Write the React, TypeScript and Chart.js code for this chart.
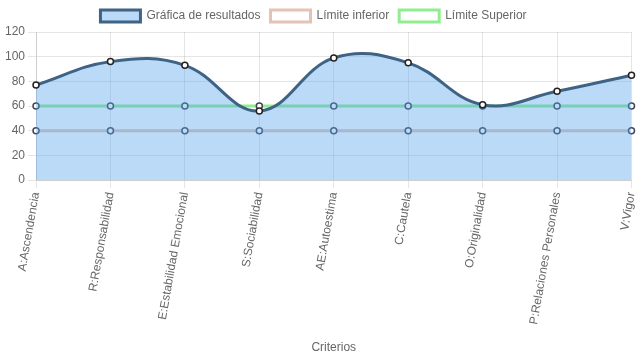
import React, { useEffect, useRef } from "react";
import { Chart, registerables } from "chart.js";

Chart.register(...registerables);

const categories = [
  "A:Ascendencia",
  "R:Responsabilidad",
  "E:Estabilidad Emocional",
  "S:Sociabilidad",
  "AE:Autoestima",
  "C:Cautela",
  "O:Originalidad",
  "P:Relaciones Personales",
  "V:Vigor",
];
const resultados = [77, 96, 93, 56, 99, 95, 61, 72, 85];
const limiteInferior = [40, 40, 40, 40, 40, 40, 40, 40, 40];
const limiteSuperior = [60, 60, 60, 60, 60, 60, 60, 60, 60];

const legendShift = {
  id: "legendShift",
  afterUpdate(chart: any) {
    if (chart.legend) {
      chart.legend.right -= 12;
    }
  },
};

export default function App() {
  const ref = useRef<HTMLCanvasElement | null>(null);
  useEffect(() => {
    document.body.style.margin = "0";
    Chart.defaults.font.family = "Arial, 'Liberation Sans', sans-serif";
    Chart.defaults.font.size = 12;
    Chart.defaults.color = "#666";
    const chart = new Chart(ref.current!, {
      type: "line",
      data: {
        labels: categories,
        datasets: [
          {
            label: "Gráfica de resultados",
            data: resultados,
            fill: "origin",
            backgroundColor: "rgba(82,162,235,0.4)",
            borderColor: "#3e6384",
            borderWidth: 3,
            tension: 0.4,
            pointRadius: 3,
            pointBorderWidth: 1.5,
            pointBackgroundColor: "#fff",
            pointBorderColor: "#222",
          },
          {
            label: "Límite inferior",
            data: limiteInferior,
            fill: false,
            backgroundColor: "rgba(255,255,255,0)",
            borderColor: "rgb(228,195,180)",
            borderWidth: 3,
            pointRadius: 3,
            pointBorderWidth: 1.5,
            pointBackgroundColor: "#fff",
            pointBorderColor: "#445",
          },
          {
            label: "Límite Superior",
            data: limiteSuperior,
            fill: false,
            backgroundColor: "rgba(255,255,255,0)",
            borderColor: "rgb(144,238,144)",
            borderWidth: 3,
            pointRadius: 3,
            pointBorderWidth: 1.5,
            pointBackgroundColor: "#fff",
            pointBorderColor: "#445",
          },
        ],
      },
      options: {
        animation: false,
        responsive: false,
        maintainAspectRatio: false,
        layout: { padding: { left: 2, right: 0, top: 0, bottom: 4 } },
        plugins: {
          legend: {
            position: "top",
            labels: { boxWidth: 40, boxHeight: 12, padding: 10 },
          },
          tooltip: { enabled: false },
        },
        scales: {
          x: {
            title: { display: true, text: "Criterios", padding: { top: 4, bottom: 0 } },
            grid: { color: "rgba(0,0,0,0.1)", tickLength: 8 },
            ticks: { minRotation: 80, maxRotation: 80, autoSkip: false },
            afterFit: (scale: any) => {
              scale.height += 8;
              scale.paddingRight = 4;
            },
          },
          y: {
            min: 0,
            max: 120,
            ticks: { stepSize: 20 },
            grid: { color: "rgba(0,0,0,0.1)", tickLength: 8 },
          },
        },
      },
      plugins: [legendShift],
    });
    return () => chart.destroy();
  }, []);
  return <canvas ref={ref} width={637} height={359} style={{ display: "block" }} />;
}
